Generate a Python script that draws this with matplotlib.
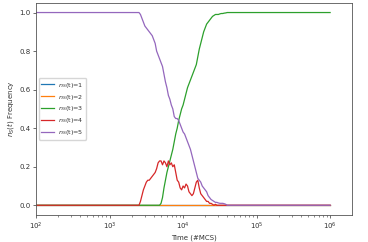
import numpy as np
import matplotlib
matplotlib.use("Agg")
import matplotlib.pyplot as plt

# log10 of time (#MCS)
log_time = [2.0,
            3.40, 3.42, 3.44, 3.46, 3.48, 3.50, 3.52, 3.54, 3.56, 3.58,
            3.60, 3.62, 3.64, 3.66, 3.68, 3.70, 3.72, 3.74, 3.76, 3.78,
            3.80, 3.82, 3.84, 3.86, 3.88, 3.90, 3.92, 3.94, 3.96, 3.98,
            4.00, 4.02, 4.04, 4.06, 4.08, 4.10, 4.12, 4.14, 4.16, 4.18,
            4.20, 4.22, 4.24, 4.26, 4.28, 4.30, 4.32, 4.34, 4.36, 4.38,
            4.40, 4.42, 4.44, 4.46, 4.48, 4.50, 4.52, 4.54, 4.56, 4.58,
            4.60, 4.62, 4.64,
            5.0, 6.0]

freq_n3 = [0.0,
           0.0, 0.0, 0.0, 0.0, 0.0, 0.0, 0.0, 0.0, 0.0, 0.0,
           0.0, 0.0, 0.0, 0.0, 0.0, 0.01, 0.04, 0.09, 0.13, 0.17,
           0.20, 0.23, 0.26, 0.29, 0.33, 0.37, 0.40, 0.44, 0.47, 0.50,
           0.52, 0.55, 0.58, 0.61, 0.63, 0.65, 0.67, 0.69, 0.71, 0.73,
           0.77, 0.81, 0.84, 0.87, 0.90, 0.92, 0.94, 0.95, 0.96, 0.97,
           0.98, 0.985, 0.99, 0.99, 0.99, 0.993, 0.995, 0.995, 0.997, 0.998,
           1.0, 1.0, 1.0,
           1.0, 1.0]

freq_n4 = [0.0,
           0.0, 0.02, 0.05, 0.08, 0.10, 0.12, 0.13, 0.13, 0.14, 0.15,
           0.16, 0.17, 0.19, 0.22, 0.23, 0.23, 0.21, 0.23, 0.22, 0.20,
           0.23, 0.21, 0.22, 0.20, 0.21, 0.17, 0.13, 0.12, 0.09, 0.08,
           0.10, 0.09, 0.11, 0.10, 0.07, 0.06, 0.05, 0.06, 0.09, 0.12,
           0.13, 0.09, 0.06, 0.05, 0.04, 0.03, 0.02, 0.02, 0.01, 0.01,
           0.005, 0.0, 0.005, 0.0, 0.0, 0.0, 0.0, 0.0, 0.0, 0.0,
           0.0, 0.0, 0.0,
           0.0, 0.0]

freq_n5 = [1.0,
           1.0, 0.99, 0.97, 0.95, 0.93, 0.92, 0.91, 0.90, 0.89, 0.88,
           0.86, 0.84, 0.80, 0.78, 0.76, 0.74, 0.72, 0.68, 0.64, 0.61,
           0.57, 0.55, 0.52, 0.50, 0.46, 0.45, 0.45, 0.44, 0.42, 0.40,
           0.38, 0.37, 0.35, 0.33, 0.31, 0.29, 0.26, 0.23, 0.20, 0.17,
           0.14, 0.13, 0.12, 0.10, 0.09, 0.08, 0.07, 0.05, 0.04, 0.03,
           0.025, 0.02, 0.015, 0.015, 0.012, 0.01, 0.01, 0.01, 0.008, 0.005,
           0.0, 0.0, 0.0,
           0.0, 0.0]

freq_n1 = [0.0] * len(log_time)
freq_n2 = [0.0] * len(log_time)

labels = ["$n_S$(t)=1", "$n_S$(t)=2", "$n_S$(t)=3", "$n_S$(t)=4", "$n_S$(t)=5"]
colors = ["#1f77b4", "#ff7f0e", "#2ca02c", "#d62728", "#9467bd"]

time = 10 ** np.array(log_time)

text_col = "#333333"
fig = plt.figure(figsize=(3.68, 2.42), dpi=100)
ax = fig.add_subplot(111)
fig.subplots_adjust(left=0.098, right=0.957, top=0.988, bottom=0.112)

for series, lab, col in zip([freq_n1, freq_n2, freq_n3, freq_n4, freq_n5], labels, colors):
    ax.plot(time, series, color=col, lw=0.9, label=lab)

ax.set_xscale("log")
ax.set_xlim(100, 10 ** 6.3)
ax.set_ylim(-0.05, 1.05)
ax.set_yticks([0.0, 0.2, 0.4, 0.6, 0.8, 1.0])
ax.tick_params(labelsize=5, length=2, width=0.5, pad=2, colors=text_col)
ax.tick_params(which="minor", length=1.2, width=0.4, colors=text_col)
for s in ax.spines.values():
    s.set_linewidth(0.6)
    s.set_color("#555555")
ax.set_xlabel("Time (#MCS)", fontsize=5, labelpad=2, color=text_col)
ax.set_ylabel("$n_S(t)$ Frequency", fontsize=5, labelpad=2, color=text_col)
leg = ax.legend(loc="center left", fontsize=4.6, frameon=True, handlelength=2.0,
                borderpad=0.4, labelspacing=0.45, handletextpad=0.6,
                borderaxespad=0.4)
for t in leg.get_texts():
    t.set_color(text_col)

fig.savefig("out.png", dpi=100)
